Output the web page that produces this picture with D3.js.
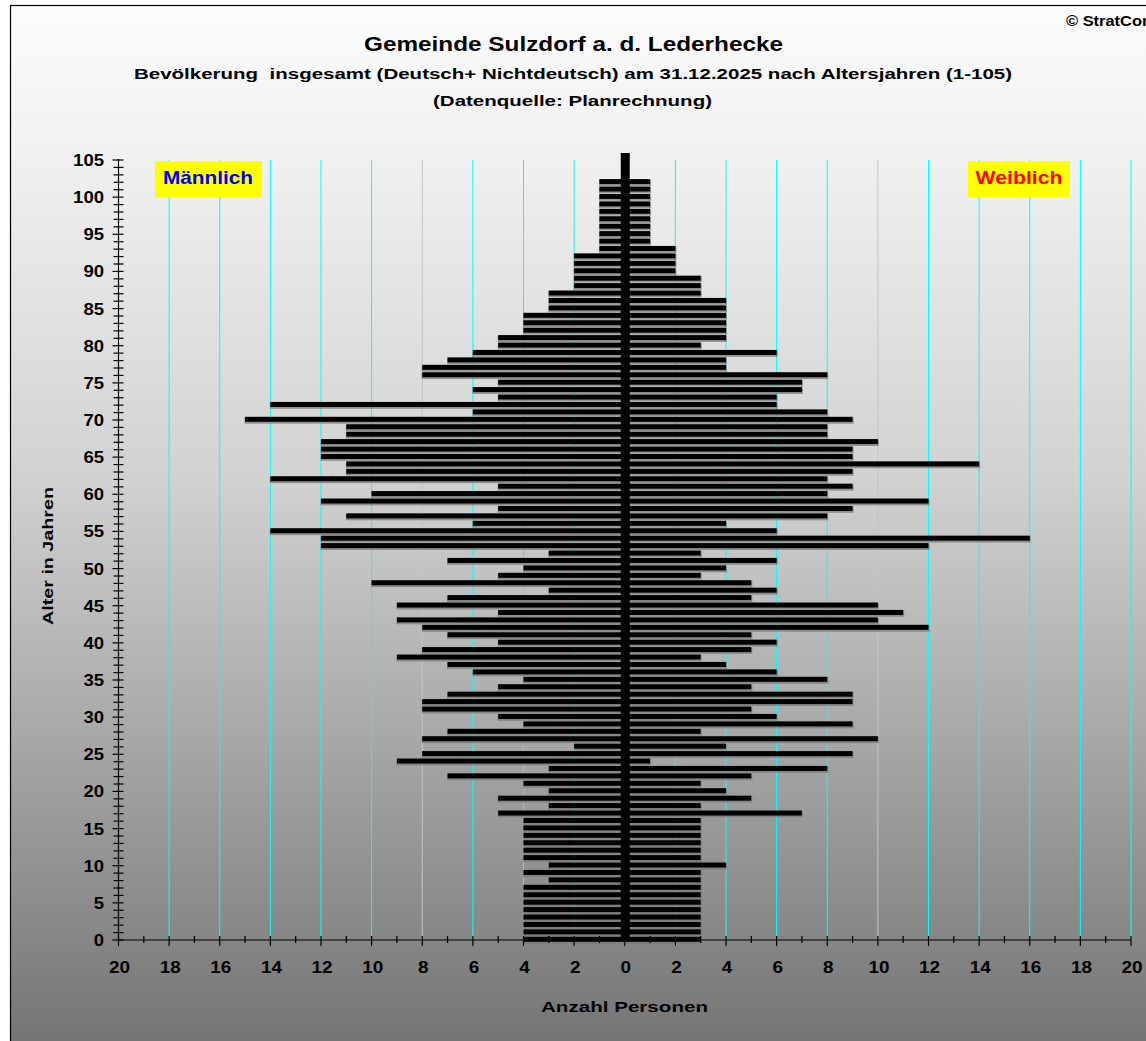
<!DOCTYPE html>
<html>
<head>
<meta charset="utf-8">
<script src="https://cdnjs.cloudflare.com/ajax/libs/d3/7.8.5/d3.min.js"></script>
<style>
  html, body { margin: 0; padding: 0; background: #ffffff; }
  svg { display: block; }
  text { font-family: "Liberation Sans", Arial, sans-serif; font-weight: bold; white-space: pre; }
</style>
</head>
<body>
<script>
// ---------- data ----------
const ages = d3.range(0, 106);
const male = [
  4,4,4,4,4,4,4,4,3,4,      // 0-9
  3,4,4,4,4,4,4,5,3,5,      // 10-19
  3,4,7,3,9,8,2,8,7,4,      // 20-29
  5,8,8,7,5,4,6,7,9,8,      // 30-39
  5,7,8,9,5,9,7,3,10,5,     // 40-49
  4,7,3,12,12,14,6,11,5,12, // 50-59
  10,5,14,11,11,12,12,12,11,11, // 60-69
  15,6,14,5,6,5,8,8,7,6,    // 70-79
  5,5,4,4,4,3,3,3,2,2,      // 80-89
  2,2,2,1,1,1,1,1,1,1,      // 90-99
  1,1,1,0,0,0               // 100-105
];
const female = [
  3,3,3,3,3,3,3,3,3,3,      // 0-9
  4,3,3,3,3,3,3,7,3,5,      // 10-19
  4,3,5,8,1,9,4,10,3,9,     // 20-29
  6,5,9,9,5,8,6,4,3,5,      // 30-39
  6,5,12,10,11,10,5,6,5,3,  // 40-49
  4,6,3,12,16,6,4,8,9,12,   // 50-59
  8,9,8,9,14,9,9,10,8,8,    // 60-69
  9,8,6,6,7,7,8,4,4,6,      // 70-79
  3,4,4,4,4,4,4,3,3,3,      // 80-89
  2,2,2,2,1,1,1,1,1,1,      // 90-99
  1,1,1,0,0,0               // 100-105
];
const xTickValues = d3.range(-20, 21, 2);
const yTickValues = d3.range(0, 106, 5);
const titleText = "Gemeinde Sulzdorf a. d. Lederhecke";
const subtitleText = "Bevölkerung  insgesamt (Deutsch+ Nichtdeutsch) am 31.12.2025 nach Altersjahren (1-105)";
const sourceText = "(Datenquelle: Planrechnung)";
const copyrightText = "© StratCon";
const xAxisTitle = "Anzahl Personen";
const yAxisTitle = "Alter in Jahren";
const maleLabel = "Männlich";
const femaleLabel = "Weiblich";

// ---------- layout ----------
const W = 1146, H = 1041;
const svg = d3.select("body").append("svg").attr("width", W).attr("height", H);

const defs = svg.append("defs");
const grad = defs.append("linearGradient").attr("id", "bg").attr("x1", 0).attr("y1", 0).attr("x2", 0).attr("y2", 1);
[[0, "#fcfcfc"], [0.15, "#f0f0f0"], [0.45, "#d2d2d2"], [0.7, "#a8a8a8"], [1, "#747474"]]
  .forEach(([o, c]) => grad.append("stop").attr("offset", o).attr("stop-color", c));

svg.append("rect").attr("x", 10.5).attr("y", 5.5).attr("width", W).attr("height", H)
  .attr("fill", "url(#bg)").attr("stroke", "#000").attr("stroke-width", 1.2);

const x = d3.scaleLinear().domain([-20, 20]).range([118.5, 1131]);
const y = d3.scaleLinear().domain([0, 105]).range([940, 160]);

// ---------- titles ----------
function stretchedText(sel, str, cx, base, size, len, anchor) {
  return sel.append("text").attr("x", cx).attr("y", base)
    .attr("text-anchor", anchor || "middle").attr("font-size", size)
    .attr("textLength", len).attr("lengthAdjust", "spacingAndGlyphs").text(str);
}
stretchedText(svg, titleText, 573.5, 51, 19.5, 419);
stretchedText(svg, subtitleText, 573, 79, 14.5, 878);
stretchedText(svg, sourceText, 572.5, 106, 14.5, 279);
stretchedText(svg, copyrightText, 1066, 26, 14, 86, "start");

// ---------- gridlines ----------
const gridVals = d3.range(-18, 21, 2).filter(v => v !== 0);
svg.append("g").selectAll("line").data(gridVals).join("line")
  .attr("x1", d => x(d)).attr("x2", d => x(d))
  .attr("y1", y(105)).attr("y2", y(0))
  .attr("stroke", d => (d === -8 || d === 10) ? "#c4c4c4" : "#00ffff")
  .attr("stroke-width", 1);

// ---------- legend boxes ----------
svg.append("rect").attr("x", 155).attr("y", 161).attr("width", 107).attr("height", 36).attr("fill", "#ffff00");
stretchedText(svg, maleLabel, 208, 184, 18.5, 90).attr("fill", "#0000ff");
svg.append("rect").attr("x", 968).attr("y", 161).attr("width", 102).attr("height", 36).attr("fill", "#ffff00");
stretchedText(svg, femaleLabel, 1019, 184, 18.5, 87).attr("fill", "#ff0000");

// ---------- bars ----------
const barH = 5;
const rows = ages.map((a, i) => ({ age: a, m: male[i], f: female[i] }));
const gb = svg.append("g");
// shadows
gb.selectAll("rect.ms").data(rows.filter(d => d.m > 0)).join("rect").attr("class", "ms")
  .attr("x", d => x(-d.m) - 0.5).attr("y", d => y(d.age) - 2.6)
  .attr("width", d => x(0) - x(-d.m) + 1).attr("height", barH + 1.3).attr("fill", "#7a7a7a").attr("opacity", 0.75);
gb.selectAll("rect.fs").data(rows.filter(d => d.f > 0)).join("rect").attr("class", "fs")
  .attr("x", x(0)).attr("y", d => y(d.age) - 2.6)
  .attr("width", d => x(d.f) - x(0) + 1).attr("height", barH + 1.3).attr("fill", "#7a7a7a").attr("opacity", 0.75);
gb.selectAll("rect.m").data(rows.filter(d => d.m > 0)).join("rect").attr("class", "m")
  .attr("x", d => x(-d.m)).attr("y", d => y(d.age) - 3.2)
  .attr("width", d => x(0) - x(-d.m)).attr("height", barH).attr("fill", "#000");
gb.selectAll("rect.f").data(rows.filter(d => d.f > 0)).join("rect").attr("class", "f")
  .attr("x", x(0)).attr("y", d => y(d.age) - 3.2)
  .attr("width", d => x(d.f) - x(0)).attr("height", barH).attr("fill", "#000");

// central bar
svg.append("rect").attr("x", x(0) - 4).attr("y", y(105) - 7).attr("width", 9)
  .attr("height", y(0) - y(105) + 7).attr("fill", "#000");

// ---------- axes ----------
const axG = svg.append("g").attr("stroke", "#000").attr("stroke-width", 1.2);
axG.append("line").attr("x1", x(-20)).attr("x2", x(-20)).attr("y1", y(105) - 1).attr("y2", y(0));
axG.append("line").attr("x1", x(-20)).attr("x2", x(20)).attr("y1", y(0)).attr("y2", y(0));
// y ticks (every year), crossing the axis
axG.selectAll("line.yt").data(ages).join("line").attr("class", "yt")
  .attr("x1", d => x(-20) - (d % 5 === 0 ? 6 : 5)).attr("x2", d => x(-20) + 5)
  .attr("y1", d => y(d)).attr("y2", d => y(d));
// x ticks (every unit)
axG.selectAll("line.xt").data(d3.range(-20, 21)).join("line").attr("class", "xt")
  .attr("x1", d => x(d)).attr("x2", d => x(d))
  .attr("y1", d => y(0) - 4).attr("y2", d => y(0) + (d % 2 === 0 ? 6 : 3));

// tick labels
svg.append("g").selectAll("text").data(yTickValues).join("text")
  .attr("x", 104).attr("y", d => y(d) + 6).attr("text-anchor", "end").attr("font-size", 17)
  .attr("textLength", d => String(d).length * 10.3).attr("lengthAdjust", "spacingAndGlyphs")
  .text(d => d);
svg.append("g").selectAll("text").data(xTickValues).join("text")
  .attr("x", d => x(d) + 1).attr("y", 973).attr("text-anchor", "middle").attr("font-size", 16)
  .attr("textLength", d => String(Math.abs(d)).length * 10.5).attr("lengthAdjust", "spacingAndGlyphs")
  .text(d => Math.abs(d));

// axis titles
stretchedText(svg, xAxisTitle, 624.5, 1012, 15, 167);
svg.append("text").attr("transform", "translate(53,556) rotate(-90)")
  .attr("text-anchor", "middle").attr("font-size", 15)
  .attr("textLength", 138).attr("lengthAdjust", "spacingAndGlyphs").text(yAxisTitle);
</script>
</body>
</html>
